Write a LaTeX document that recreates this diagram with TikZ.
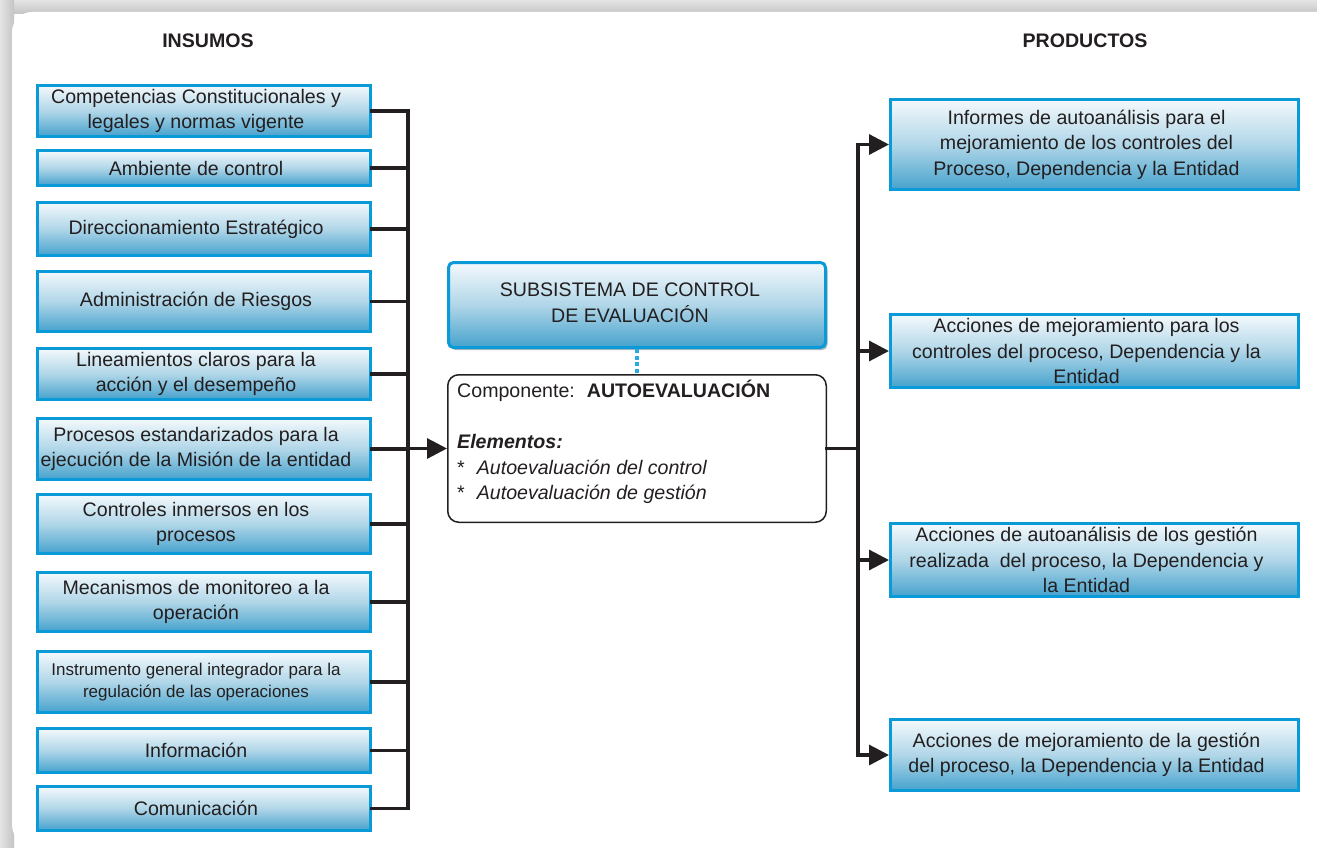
\documentclass[tikz,border=0pt]{standalone}
\usepackage{fontspec}
\setmainfont{Liberation Sans}
\usetikzlibrary{arrows.meta,shadows}
\definecolor{boxblue}{RGB}{10,154,216}
\definecolor{ink}{RGB}{35,31,32}
\definecolor{shtop}{RGB}{244,249,252}
\definecolor{shmid}{RGB}{176,214,232}
\definecolor{shbot}{RGB}{70,162,205}
\definecolor{dotblue}{RGB}{41,171,226}
\definecolor{bglight}{RGB}{228,228,228}
\definecolor{bgdark}{RGB}{196,196,196}
\tikzset{
  bluebox/.style={draw=boxblue, line width=3pt, top color=shtop, bottom color=shbot, middle color=shmid, inner sep=0pt},
  boxtext/.style={align=center, text=ink, font=\fontsize{19.6pt}{25.5pt}\selectfont, inner sep=0pt},
  smalltext/.style={align=center, text=ink, font=\fontsize{17pt}{22pt}\selectfont, inner sep=0pt},
  wire/.style={draw=ink, line width=3.2pt, line cap=rect},
  arrowwire/.style={wire, -{Triangle[length=20pt,width=20pt]}},
  header/.style={font=\fontsize{19.6pt}{24pt}\selectfont\bfseries, text=ink, inner sep=0pt},
  compbox/.style={draw=ink, line width=1.5pt, rounded corners=11pt, fill=white, inner sep=0pt},
  dotline/.style={draw=dotblue, line width=3.5pt, dash pattern=on 4pt off 2.5pt},
}
\newcommand\inbox[5]{%
  \node[bluebox, minimum width=333pt, minimum height={#3-#2-3}] (#1) at (204,{(#2+#3)/2}) {};
  \node[#4] (#1t) at ([xshift=-8pt]#1.center) {#5};
}
\newcommand\outbox[4]{%
  \node[bluebox, minimum width=408pt, minimum height={#3-#2-3}] (#1) at (1094.5,{(#2+#3)/2}) {};
  \node[boxtext] (#1t) at ([xshift=-8pt]#1.center) {#4};
}
\begin{document}
\begin{tikzpicture}[x=1pt,y=-1pt]
\useasboundingbox (0,0) rectangle (1317,848);
% background frame
\fill[white] (0,0) rectangle (1317,848);
\shade[top color=bglight, bottom color=bgdark] (0,0) rectangle (1317,14);
\shade[left color=bglight, right color=bgdark] (0,0) rectangle (14,848);
\fill[white, rounded corners=20pt] (12,12) rectangle (1338,845);
% headers
\node[header] (hin) at (208,41) {INSUMOS};
\node[header] (hout) at (1085,41) {PRODUCTOS};
% inputs
\inbox{b1}{84}{138}{boxtext}{Competencias Constitucionales y\\legales y normas vigente}
\inbox{b2}{149}{187}{boxtext}{Ambiente de control}
\inbox{b3}{201}{257}{boxtext}{Direccionamiento Estratégico}
\inbox{b4}{270}{333}{boxtext}{Administración de Riesgos}
\inbox{b5}{347}{401}{boxtext}{Lineamientos claros para la\\acción y el desempeño}
\inbox{b6}{417}{481}{boxtext}{Procesos estandarizados para la\\ejecución de la Misión de la entidad}
\inbox{b7}{493}{555}{boxtext}{Controles inmersos en los\\procesos}
\inbox{b8}{571}{633}{boxtext}{Mecanismos de monitoreo a la\\operación}
\inbox{b9}{650}{714}{smalltext}{Instrumento general integrador para la\\regulación de las operaciones}
\inbox{b10}{727}{774}{boxtext}{Información}
\inbox{b11}{785}{832}{boxtext}{Comunicación}
% centre
\node[bluebox, rounded corners=5pt, minimum width=377pt, minimum height=85pt,
      drop shadow={shadow xshift=2pt, shadow yshift=-2.5pt, fill=gray!55, opacity=1}] (sub) at (637,305) {};
\node[boxtext] (subt) at ([xshift=-7pt,yshift=2pt]sub.center) {SUBSISTEMA DE CONTROL\\DE EVALUACIÓN};
\node[compbox, minimum width=378.5pt, minimum height=147.5pt] (comp) at (637,448.5) {};
\node[anchor=north west, align=left, inner sep=0pt, text=ink, font=\fontsize{19.6pt}{25.5pt}\selectfont] (compt)
  at ([xshift=10pt,yshift=-6pt]comp.north west)
  {Componente:\hspace{12pt}\textbf{AUTOEVALUACIÓN}\\[25.5pt]
   \textbf{\textit{Elementos:}}\\
   *\hspace{12pt}\textit{Autoevaluación del control}\\
   *\hspace{12pt}\textit{Autoevaluación de gestión}};
\draw[dotline] (sub.south) -- (comp.north);
% outputs
\outbox{r1}{98}{191}{Informes de autoanálisis para el\\mejoramiento de los controles del\\Proceso, Dependencia y la Entidad}
\outbox{r2}{313}{389}{Acciones de mejoramiento para los\\controles del proceso, Dependencia y la\\Entidad}
\outbox{r3}{522}{598}{Acciones de autoanálisis de los gestión\\realizada\ \ del proceso, la Dependencia y\\la Entidad}
\outbox{r4}{718}{792}{Acciones de mejoramiento de la gestión\\del proceso, la Dependencia y la Entidad}
% left bus
\coordinate (lb) at (408,0);
\draw[wire] (b1.east) -- (b1.east -| lb) -- (b11.east -| lb) -- (b11.east);
\foreach \b in {b2,b3,b4,b5,b6,b7,b8,b9,b10}{
  \draw[wire] (\b.east) -- (\b.east -| lb);
}
\draw[arrowwire] (comp.west -| lb) -- (comp.west);
% right bus
\coordinate (rb) at (858,0);
\draw[wire] (comp.east) -- (comp.east -| rb);
\draw[wire] (r1.west -| rb) -- (r4.west -| rb);
\foreach \r in {r1,r2,r3,r4}{
  \draw[arrowwire] (\r.west -| rb) -- (\r.west);
}
\end{tikzpicture}
\end{document}
